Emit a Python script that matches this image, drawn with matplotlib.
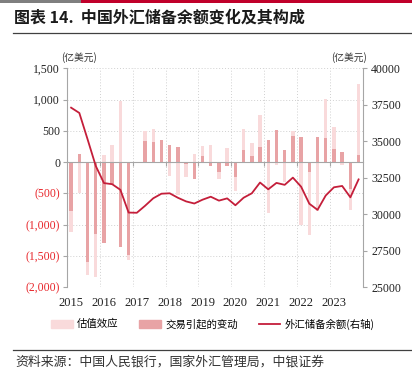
import numpy as np
import matplotlib
matplotlib.use('Agg')
from matplotlib import pyplot as plt
from matplotlib.patches import Rectangle, Patch
from matplotlib.lines import Line2D
from matplotlib import transforms

# data: quarterly 2015Q1 - 2023Q4, 亿美元
years = ['2015', '2016', '2017', '2018', '2019', '2020', '2021', '2022', '2023']
trade = [-790, 128, -1605, -1150, -1290, -351, -1360, -1493, -20, 330, 315, 346,
         277, 235, -27, -272, 101, -69, -160, -59, -245, 187, 101, 240,
         357, 506, 197, 421, 400, -165, 394, 384, 213, 155, -426, 117]
valuation = [-335, -496, -195, -695, 117, 272, 980, -69, 6, 160, 213, -10,
             -229, -522, -218, 128, 160, 277, -107, 224, -224, 341, 203, 506,
             -816, -53, -325, 80, -1013, -997, -789, 623, 352, -53, -347, 1130]
reserves = [37300, 36938, 35141, 33304, 32126, 32052, 31664, 30105,
            30091, 30568, 31085, 31399, 31428, 31121, 30870, 30727,
            30988, 31192, 30924, 31079, 30606, 31123, 31426, 32165,
            31700, 32140, 32006, 32502, 31880, 30713, 30290, 31277,
            31839, 31930, 31151, 32380]
left_ticks = [1500, 1000, 500, 0, -500, -1000, -1500, -2000]
right_ticks = [40000, 37500, 35000, 32500, 30000, 27500, 25000]

CJK = 'Noto Sans CJK SC'
SERIF = 'Liberation Serif'
c_dark = '#E8A3A5'
c_light = '#F9DADB'
c_line = '#C41E3A'
c_red = '#E8262B'

W, H = 412, 379
fig = plt.figure(figsize=(W / 100, H / 100), dpi=100)

# header bars and rules
fig.add_artist(Rectangle((0, 1 - 3 / H), 81 / W, 3 / H, transform=fig.transFigure,
                         color='#7F7F7F', lw=0))
fig.add_artist(Rectangle((81 / W, 1 - 3 / H), 1 - 81 / W, 3 / H, transform=fig.transFigure,
                         color='#C0002A', lw=0))
fig.text(14 / W, 1 - 18 / H, '图表 14.  中国外汇储备余额变化及其构成', family=CJK,
         fontsize=11.5, fontweight='bold', va='center', ha='left', color='#1a1a1a')
fig.add_artist(Line2D([13 / W, 1], [1 - 33 / H] * 2, transform=fig.transFigure,
                      color='#404040', lw=0.9))
fig.add_artist(Line2D([13 / W, 1], [1 - 350 / H] * 2, transform=fig.transFigure,
                      color='#404040', lw=0.9))
fig.text(15 / W, 1 - 362 / H, '资料来源：中国人民银行，国家外汇管理局，中银证券', family=CJK,
         fontsize=9.3, va='center', ha='left', color='#333333')

ax = fig.add_axes([67 / W, 1 - 287 / H, (362.7 - 67) / W, (287 - 68.3) / H])
n = len(trade)
x = np.arange(n)
trade = np.array(trade, dtype=float)
valuation = np.array(valuation, dtype=float)
# excel-like stacking: negatives stack separately
bottom_v = np.where(np.sign(valuation) == np.sign(trade), trade, 0)
ax.bar(x, trade, width=0.42, color=c_dark, zorder=2)
ax.bar(x, valuation, width=0.42, bottom=bottom_v, color=c_light, zorder=2)

ax.set_xlim(-0.5, n - 0.5)
ax.set_ylim(-2000, 1500)
ax.set_yticks(left_ticks)
labels = []
for v in left_ticks:
    if v < 0:
        labels.append('({:,})'.format(-v))
    else:
        labels.append('{:,}'.format(v))
ax.set_yticklabels(labels, family=SERIF, fontsize=8.5)
for lab, v in zip(ax.get_yticklabels(), left_ticks):
    lab.set_color(c_red if v < 0 else '#222222')

# grid
for v in left_ticks:
    ax.axhline(v, color='#D0D0D0', lw=0.7, ls=(0, (1, 2)), zorder=0)
bounds = np.arange(3.5, n - 1, 4)
for b in bounds:
    ax.axvline(b, color='#D0D0D0', lw=0.7, ls=(0, (1, 2)), zorder=0)

ax.spines['top'].set_visible(False)
ax.spines['right'].set_visible(False)
ax.spines['left'].set_color('#A6A6A6')
ax.spines['bottom'].set_position(('data', 0))
ax.spines['bottom'].set_color('#A6A6A6')
ax.spines['bottom'].set_zorder(3)
ax.set_xticks(bounds)
ax.set_xticklabels([])
ax.tick_params(axis='x', length=3, color='#A6A6A6', direction='out')
ax.tick_params(axis='y', length=3, color='#A6A6A6', pad=2)

trans = transforms.blended_transform_factory(ax.transData, ax.transAxes)
for k, yr in enumerate(years):
    ax.text(4 * k, -16 / 218.7, yr, transform=trans, ha='center', va='center',
            family=SERIF, fontsize=9, color='#222222')

ax2 = ax.twinx()
ax2.plot(x, reserves, color=c_line, lw=1.3, zorder=4)
ax2.set_ylim(25000, 40000)
ax2.set_yticks(right_ticks)
ax2.set_yticklabels([str(v) for v in right_ticks], family=SERIF, fontsize=8.5,
                    color='#222222')
for s in ['top', 'left', 'bottom']:
    ax2.spines[s].set_visible(False)
ax2.spines['right'].set_color('#A6A6A6')
ax2.tick_params(axis='y', length=3, color='#A6A6A6', pad=3)

fig.text(79 / W, 1 - 58 / H, '(亿美元)', family=CJK, fontsize=7, ha='center', va='center',
         color='#333333')
fig.text(349 / W, 1 - 58 / H, '(亿美元)', family=CJK, fontsize=7, ha='center', va='center',
         color='#333333')

handles = [Patch(color=c_light, label='估值效应'),
           Patch(color=c_dark, label='交易引起的变动'),
           Line2D([], [], color=c_line, lw=1.3, label='外汇储备余额(右轴)')]
fig.legend(handles=handles, loc='center', bbox_to_anchor=(0.516, 1 - 324 / H), ncol=3,
           frameon=False, prop={'family': CJK, 'size': 7.5}, handlelength=2.1,
           handleheight=0.9, handletextpad=0.4, columnspacing=2.0)

fig.savefig('out.png', dpi=100)
